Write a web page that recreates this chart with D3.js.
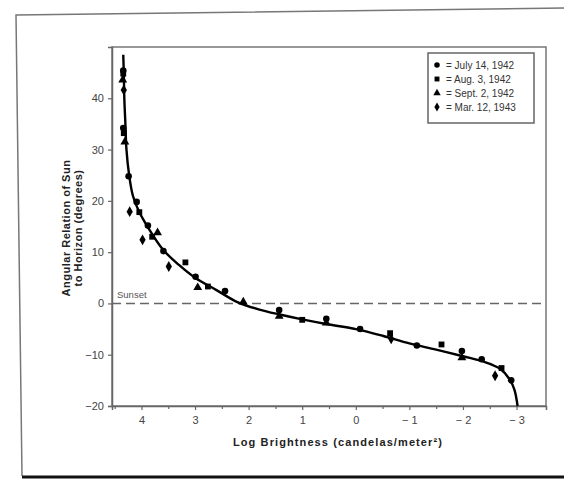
<!DOCTYPE html>
<html>
<head>
<meta charset="utf-8">
<script src="https://cdn.jsdelivr.net/npm/d3@7"></script>
<style>
  body { margin: 0; background: #fff; }
  svg { font-family: Arial, "Liberation Sans", sans-serif; }
  .axis-label { font-weight: bold; fill: #222; }
</style>
</head>
<body>
<div id="chart"></div>
<script>
// Data
const xTicks = [4, 3, 2, 1, 0, -1, -2, -3];
const xMinorTicks = [4.5, 3.5, 2.5, 1.5, 0.5, -0.5, -1.5, -2.5];
const yTicks = [-20, -10, 0, 10, 20, 30, 40];

// [log brightness, angle of sun]
const july14 = [[4.34, 45.4], [4.34, 34.2], [4.24, 24.8], [4.09, 19.8], [3.88, 15.2], [3.59, 10.2],
  [2.99, 5.2], [2.44, 2.4], [1.43, -1.3], [0.55, -3.0], [-0.08, -5.0], [-1.14, -8.2],
  [-1.98, -9.3], [-2.35, -10.9], [-2.9, -15.0]];
const aug3 = [[4.34, 44.8], [4.33, 33.2], [4.04, 17.8], [3.8, 13.0], [3.18, 8.0], [2.76, 3.3],
  [1.0, -3.2], [-0.64, -5.8], [-1.6, -8.0], [-2.72, -12.6]];
const sept2 = [[4.35, 43.6], [4.31, 31.5], [3.7, 13.8], [2.95, 3.1], [2.1, 0.3], [1.43, -2.5],
  [0.55, -3.8], [-1.98, -10.6]];
const mar12 = [[4.33, 41.6], [4.22, 17.9], [3.98, 12.4], [3.49, 7.2], [-0.66, -6.9], [-2.6, -14.1]];

// fitted curve drawn through the data
const curvePts = [[4.34, 48.5], [4.33, 45], [4.32, 40], [4.30, 35], [4.28, 30], [4.23, 25],
  [4.16, 21], [4.05, 18], [3.89, 15], [3.6, 10.5], [3.3, 7.5], [3.0, 5], [2.6, 2.6],
  [2.2, 0.2], [1.8, -1.2], [1.4, -2.2], [1.0, -3.1], [0.5, -4.1], [0.0, -5.0], [-0.5, -6.3],
  [-1.0, -7.8], [-1.5, -9.0], [-2.0, -10.3], [-2.4, -11.4], [-2.7, -12.8], [-2.87, -14.8],
  [-2.96, -16.8], [-3.02, -20]];

const seriesNames = ["= July 14, 1942", "= Aug. 3, 1942", "= Sept. 2, 1942", "= Mar. 12, 1943"];
const seriesData = [july14, aug3, sept2, mar12];
const seriesSymbols = [d3.symbolCircle, d3.symbolSquare, d3.symbolTriangle, d3.symbolDiamond];

const W = 564, H = 479;
const svg = d3.select('#chart').append('svg')
  .attr('width', W).attr('height', H);

// scanned page border
svg.append('path')
  .attr('d', 'M22,476 L16,15 L564,8')
  .attr('fill', 'none').attr('stroke', '#777').attr('stroke-width', 1.5);
svg.append('line')
  .attr('x1', 22).attr('x2', 564).attr('y1', 477).attr('y2', 477)
  .attr('stroke', '#111').attr('stroke-width', 3);

// scales
const x = d3.scaleLinear().domain([4.55, -3.55]).range([112, 546]);
const y = d3.scaleLinear().domain([-20, 50]).range([406, 47]);

// plot frame (top and right)
svg.append('rect')
  .attr('x', x.range()[0]).attr('y', y.range()[1])
  .attr('width', x.range()[1] - x.range()[0])
  .attr('height', y.range()[0] - y.range()[1])
  .attr('fill', 'none').attr('stroke', '#777').attr('stroke-width', 1.5);

const fmt = d => d < 0 ? '\u2212' + (-d) : String(d);

// x axis
svg.append('g')
  .attr('transform', `translate(0, ${y(-20)})`)
  .call(d3.axisBottom(x).tickValues(xTicks).tickFormat(d => d < 0 ? '\u2212 ' + (-d) : d).tickSize(4).tickPadding(6));
svg.append('g')
  .attr('transform', `translate(0, ${y(-20)})`)
  .call(d3.axisBottom(x).tickValues(xMinorTicks).tickFormat('').tickSize(3))
  .select('.domain').remove();

// y axis
svg.append('g')
  .attr('transform', `translate(${x(4.55)}, 0)`)
  .call(d3.axisLeft(y).tickValues(yTicks).tickFormat(fmt).tickSize(4).tickPadding(4));

svg.selectAll('.domain').attr('stroke', '#666').attr('stroke-width', 1.5);
svg.selectAll('.tick line').attr('stroke', '#666').attr('stroke-width', 1.2);
svg.selectAll('.tick text').attr('fill', '#444').style('font-size', '11px');

// sunset reference line
svg.append('line')
  .attr('x1', x(4.55)).attr('x2', x(-3.55))
  .attr('y1', y(0)).attr('y2', y(0))
  .attr('stroke', '#666').attr('stroke-width', 1.5)
  .attr('stroke-dasharray', '9,5');
svg.append('text')
  .attr('x', x(4.55) + 5).attr('y', y(0) - 5)
  .attr('fill', '#555').style('font-size', '9.5px')
  .text('Sunset');

// fitted curve
const line = d3.line()
  .x(d => x(d[0])).y(d => y(d[1]))
  .curve(d3.curveCatmullRom);
svg.append('path')
  .datum(curvePts)
  .attr('d', line)
  .attr('fill', 'none').attr('stroke', '#000').attr('stroke-width', 2.4);

// data points
seriesData.forEach((arr, i) => {
  svg.append('g').selectAll('path')
    .data(arr)
    .enter()
    .append('path')
    .attr('transform', d => `translate(${x(d[0])}, ${y(d[1])})`)
    .attr('d', d3.symbol().type(seriesSymbols[i]).size(34))
    .attr('fill', '#000');
});

// legend
const legend = svg.append('g');
legend.append('rect')
  .attr('x', 428).attr('y', 53).attr('width', 106).attr('height', 70)
  .attr('fill', '#fff').attr('stroke', '#666').attr('stroke-width', 1.5);
seriesNames.forEach((name, i) => {
  const ly = 65 + i * 14;
  legend.append('path')
    .attr('transform', `translate(437, ${ly})`)
    .attr('d', d3.symbol().type(seriesSymbols[i]).size(24))
    .attr('fill', '#000');
  legend.append('text')
    .attr('x', 446).attr('y', ly + 3.5)
    .attr('fill', '#333').style('font-size', '10px')
    .text(name);
});

// axis titles
svg.append('text')
  .attr('class', 'axis-label')
  .attr('x', 338).attr('y', 446)
  .attr('text-anchor', 'middle')
  .style('font-size', '11px').style('letter-spacing', '1.1px')
  .text('Log Brightness (candelas/meter\u00b2)');

const yTitle = svg.append('text')
  .attr('class', 'axis-label')
  .attr('transform', 'translate(72, 228) rotate(-90)')
  .attr('text-anchor', 'middle')
  .style('font-size', '11px').style('letter-spacing', '0.5px');
yTitle.append('tspan').attr('x', 0).attr('dy', -2).text('Angular Relation of Sun');
yTitle.append('tspan').attr('x', 0).attr('dy', 12).text('to Horizon (degrees)');
</script>
</body>
</html>
